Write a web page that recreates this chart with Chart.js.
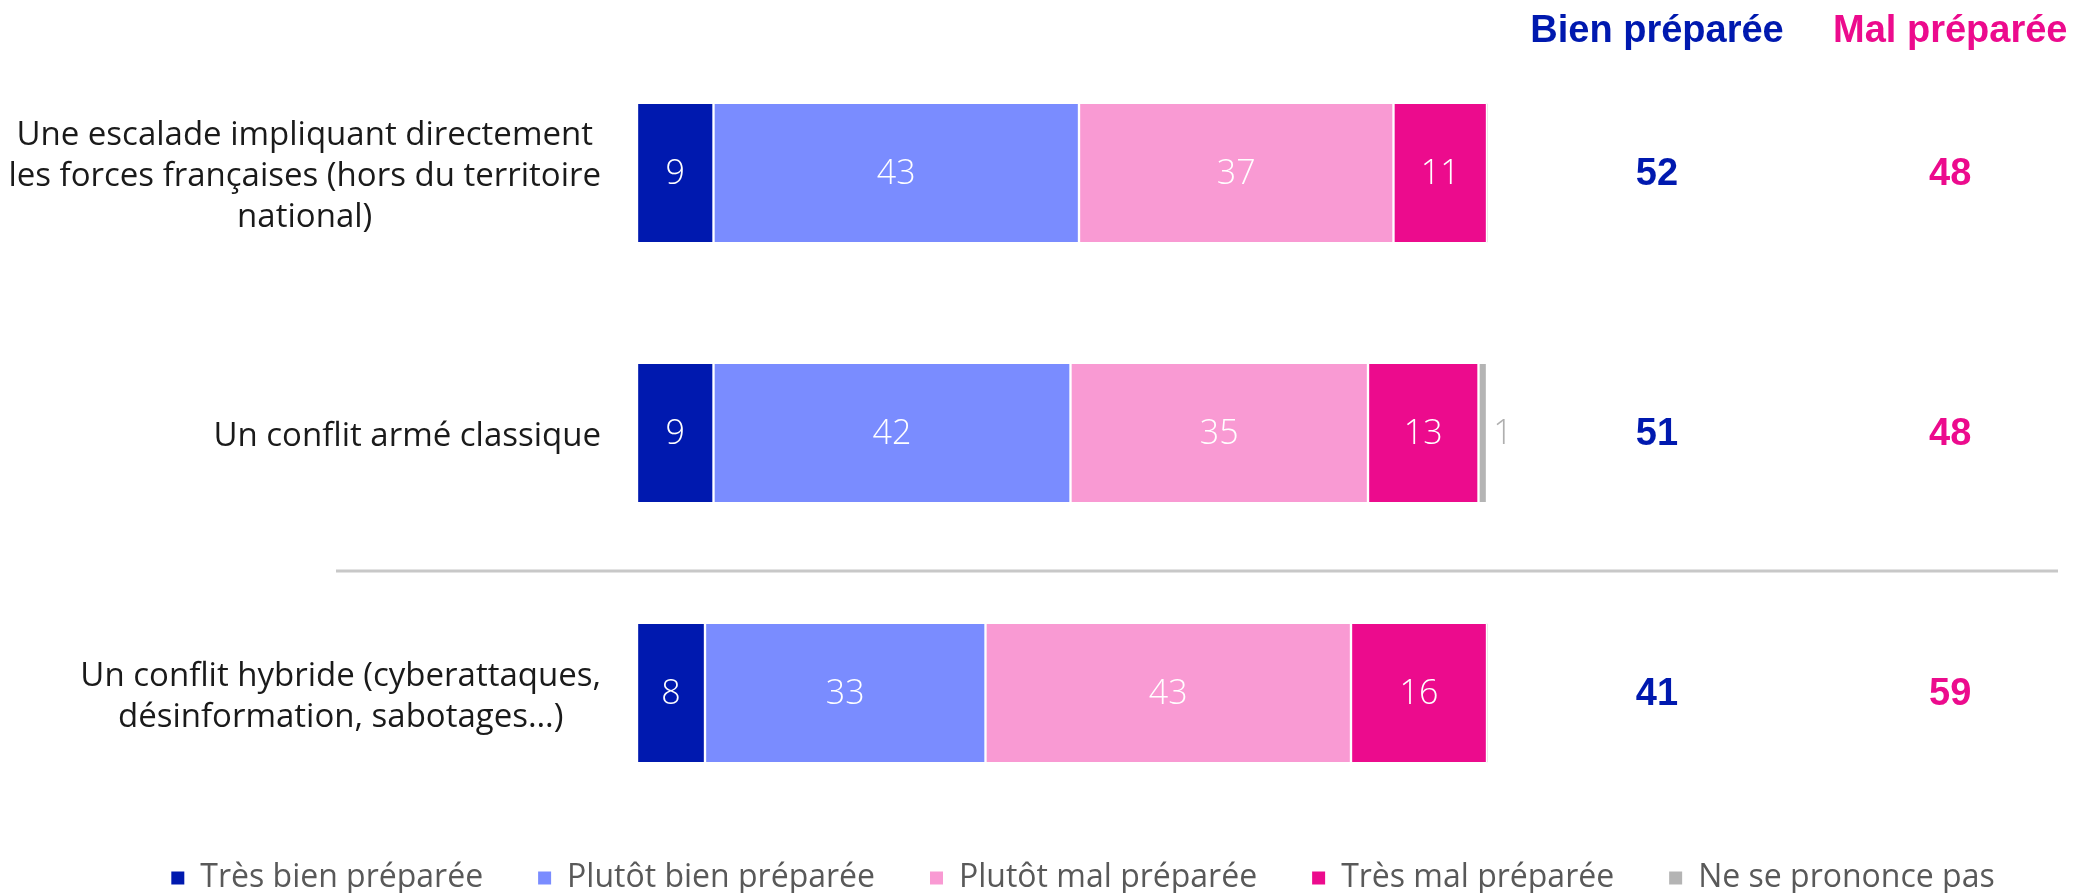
<!DOCTYPE html>
<html>
<head>
<meta charset="utf-8">
<script src="https://cdn.jsdelivr.net/npm/chart.js@4"></script>
<style>
    html, body { margin: 0; padding: 0; background: #fff; overflow: hidden; }
</style>
</head>
<body>
<canvas id="myChart" width="2085" height="893"></canvas>
<script>
// categories (one array per line of the label)
var categories = [
    ['Une escalade impliquant directement', 'les forces françaises (hors du territoire', 'national)'],
    ['Un conflit armé classique'],
    ['Un conflit hybride (cyberattaques,', 'désinformation, sabotages…)']
];
var seriesNames = ['Très bien préparée', 'Plutôt bien préparée', 'Plutôt mal préparée', 'Très mal préparée', 'Ne se prononce pas'];
var tresBien = [9, 9, 8];
var plutotBien = [43, 42, 33];
var plutotMal = [37, 35, 43];
var tresMal = [11, 13, 16];
var nsp = [0, 1, 0];
var totalBien = [52, 51, 41];
var totalMal = [48, 48, 59];
var headers = ['Bien préparée', 'Mal préparée'];
var colors = ['#0019AF', '#7A8CFF', '#F99AD3', '#EC0B8D', '#B4B4B4'];

var series = [tresBien, plutotBien, plutotMal, tresMal, nsp];

const overlay = {
    id: 'overlay',
    afterDatasetsDraw(chart) {
        const ctx = chart.ctx;
        const xs = chart.scales.x;
        const ys = chart.scales.y;
        ctx.save();
        ctx.textBaseline = 'middle';

        // values inside the bars
        series.forEach(function(d, i) {
            const meta = chart.getDatasetMeta(i);
            meta.data.forEach(function(bar, j) {
                const v = d[j];
                if (!v) return;
                ctx.font = '300 34px "Open Sans"';
                ctx.textAlign = 'center';
                if (i === 4) {
                    ctx.fillStyle = '#AFAFAF';
                    ctx.fillText(v, bar.x + 16, bar.y + 1);
                } else {
                    ctx.fillStyle = '#ffffff';
                    ctx.fillText(v, (bar.x + bar.base) / 2, bar.y + 1);
                }
            });
        });

        // category labels, each block right aligned, lines centered
        ctx.font = '33px "Open Sans"';
        ctx.fillStyle = '#1a1a1a';
        ctx.textAlign = 'center';
        const lineH = 41;
        categories.forEach(function(lines, j) {
            let w = 0;
            lines.forEach(function(l) { w = Math.max(w, ctx.measureText(l).width); });
            const cx = 601 - w / 2;
            const cy = ys.getPixelForValue(j) + 4;
            lines.forEach(function(l, k) {
                ctx.fillText(l, cx, cy + (k - (lines.length - 1) / 2) * lineH);
            });
        });

        // headers and totals
        const xBien = xs.getPixelForValue(120);
        const xMal = xs.getPixelForValue(154.5);
        ctx.font = 'bold 38px "Liberation Sans"';
        ctx.fillStyle = colors[0];
        ctx.fillText(headers[0], xBien, 32);
        ctx.fillStyle = colors[3];
        ctx.fillText(headers[1], xMal, 32);
        totalBien.forEach(function(v, j) {
            const cy = ys.getPixelForValue(j) + 2;
            ctx.fillStyle = colors[0];
            ctx.fillText(v, xBien, cy);
            ctx.fillStyle = colors[3];
            ctx.fillText(totalMal[j], xMal, cy);
        });

        // separator line between 2nd and 3rd item
        const sy = ys.getPixelForValue(1.5) + 8;
        ctx.strokeStyle = '#C8C8C8';
        ctx.lineWidth = 3;
        ctx.beginPath();
        ctx.moveTo(336, sy);
        ctx.lineTo(2058, sy);
        ctx.stroke();
        ctx.restore();
    }
};

const ctx = document.getElementById('myChart');

new Chart(ctx, {
    type: 'bar',
    data: {
        labels: categories,
        datasets: series.map(function(d, i) {
            return {
                label: seriesNames[i],
                data: d.map(function(v, j) { return { x: v, y: j }; }),
                backgroundColor: colors[i],
                borderColor: '#ffffff',
                borderWidth: { left: 1.5, right: 1.5, top: 0, bottom: 0 },
                borderSkipped: false,
                barThickness: 138
            };
        })
    },
    options: {
        indexAxis: 'y',
        responsive: false,
        animation: false,
        events: [],
        layout: { padding: { left: 84, right: 3, top: 43, bottom: -11 } },
        scales: {
            x: { stacked: true, min: 0, max: 170, display: false },
            y: {
                type: 'linear',
                stacked: true,
                reverse: true,
                offset: false,
                min: -0.5,
                max: 2.4385,
                grid: { display: false, offset: false },
                border: { display: false },
                ticks: { display: false },
                afterFit: function(scale) { scale.width = 553; }
            }
        },
        plugins: {
            tooltip: { enabled: false },
            legend: {
                position: 'bottom',
                labels: {
                    boxWidth: 13,
                    boxHeight: 13,
                    padding: 55,
                    color: '#595959',
                    font: { family: 'Open Sans', size: 32 },
                    generateLabels: function(chart) {
                        var items = Chart.defaults.plugins.legend.labels.generateLabels(chart);
                        items.forEach(function(it) { it.lineWidth = 0; it.strokeStyle = 'rgba(0,0,0,0)'; });
                        return items;
                    }
                }
            }
        }
    },
    plugins: [overlay]
});
</script>
</body>
</html>
